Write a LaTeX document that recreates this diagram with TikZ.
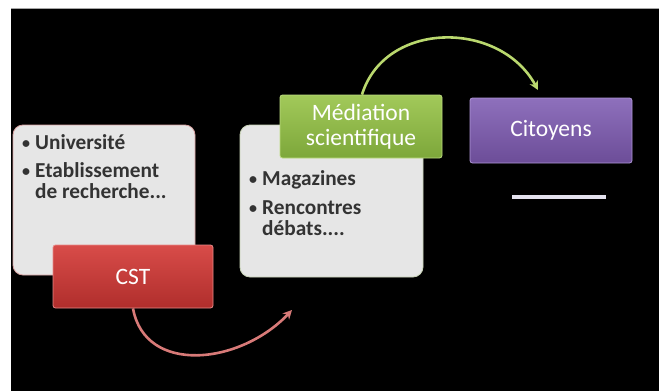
\documentclass[tikz,border=0pt]{standalone}
\usepackage{fontspec}
\setmainfont{Carlito}
\usetikzlibrary{arrows.meta}
\definecolor{bgblack}{HTML}{000000}
\definecolor{panelfill}{HTML}{E6E6E6}
\definecolor{paneltext}{HTML}{333333}
\definecolor{redtop}{HTML}{D84C49}
\definecolor{redbot}{HTML}{B02E2C}
\definecolor{rededge}{HTML}{E88A88}
\definecolor{greentop}{HTML}{A2C95A}
\definecolor{greenbot}{HTML}{7DA73A}
\definecolor{greenedge}{HTML}{BCDB80}
\definecolor{purptop}{HTML}{8E70BC}
\definecolor{purpbot}{HTML}{6C4D98}
\definecolor{purpedge}{HTML}{AE96D6}
\definecolor{redarrow}{HTML}{D87A78}
\definecolor{greenarrow}{HTML}{BAD86E}
\definecolor{leftborder}{HTML}{D9A3A2}
\definecolor{midborder}{HTML}{C9D4B8}
\definecolor{barcol}{HTML}{E4E2EE}
\tikzset{
  panel/.style={draw, line width=0.8pt, fill=panelfill, rounded corners=10pt,
    inner sep=0pt},
  tagbox/.style={draw, line width=0.8pt, rounded corners=2.5pt, inner sep=0pt,
    text=white, align=center,
    font=\fontsize{23.5}{26}\selectfont},
  listtext/.style={inner sep=0pt, text=paneltext, anchor=base west,
    font=\bfseries\fontsize{21.3}{21}\selectfont},
  flowarrow/.style={line width=2.6pt, -{Stealth[length=9pt,width=9pt]}}
}
\newcommand{\blt}{\makebox[13pt][l]{\fontsize{16}{16}\selectfont\raisebox{0.5pt}{•}}}
\begin{document}
\begin{tikzpicture}[x=1pt,y=-1pt]
\useasboundingbox (0,0) rectangle (659,391);
\fill[white] (0,0) rectangle (659,391);
\fill[bgblack] (11,8) rectangle (659,391);
\draw[gray!70, line width=1pt] (11,8) -- (659,8);
% panels
\node[panel, draw=leftborder, minimum width=182pt, minimum height=150pt] (left) at (104,200) {};
\node[panel, draw=midborder, minimum width=183pt, minimum height=152pt] (mid) at (331.5,201) {};
% list texts
\node[listtext] (lefttxt) at (22,149) {\begin{tabular}[t]{@{}l@{}l@{}}
\blt & Université\\[7pt]
\blt & Etablissement\\
 & de recherche...
\end{tabular}};
\node[listtext] (midtxt) at (249,185) {\begin{tabular}[t]{@{}l@{}l@{}}
\blt & Magazines\\[8pt]
\blt & Rencontres\\
 & débats....
\end{tabular}};
% coloured tags
\node[tagbox, draw=rededge, top color=redtop, bottom color=redbot,
  minimum width=160pt, minimum height=63pt] (cst) at (133,276.5) {CST};
\node[tagbox, draw=greenedge, top color=greentop, bottom color=greenbot,
  minimum width=162pt, minimum height=63pt] (med) at (361,126.5) {Médiation\\[-1pt]scientifique};
\node[tagbox, draw=purpedge, top color=purptop, bottom color=purpbot,
  minimum width=162pt, minimum height=65pt] (cit) at (551,130.5) {Citoyens};
% bar
\coordinate (barA) at (512,197);
\coordinate (barB) at (606,197);
\draw[barcol, line width=4pt] (barA) -- (barB);
% arrows
\coordinate (redend) at (292,310);
\coordinate (greenend) at (538,90);
\draw[flowarrow, redarrow] (cst.south -| 133,0) .. controls (145,375) and (240,365) .. (redend);
\draw[flowarrow, greenarrow] (med.north -| 362,0) .. controls (385,20) and (500,20) .. (greenend);
\end{tikzpicture}
\end{document}
